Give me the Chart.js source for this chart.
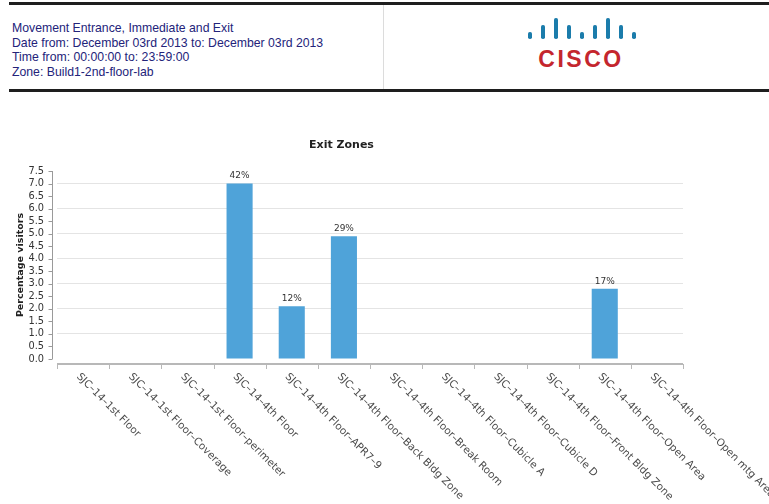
<!DOCTYPE html>
<html>
<head>
<meta charset="utf-8">
<script src="https://cdn.jsdelivr.net/npm/chart.js@4.4.0/dist/chart.umd.min.js"></script>
<style>
  body { margin: 0; width: 769px; height: 504px; background: #fff; position: relative; overflow: hidden; font-family: "Liberation Sans", Arial, sans-serif; }
  .rule { position: absolute; left: 9px; right: 0; height: 3px; background: #1e1e1e; }
  .divider { position: absolute; left: 383px; top: 5px; width: 1px; height: 84px; background: #dcdcdc; }
  .info { position: absolute; left: 12px; top: 21px; font-size: 12.25px; line-height: 14.7px; color: #23237a; white-space: nowrap; }
  .logo-bars span { position: absolute; width: 3.5px; background: #1b7cab; border-radius: 1.75px; bottom: 0; }
  .logo-bars { position: absolute; left: 528px; top: 18px; width: 110px; height: 21px; }
  .logo-text { position: absolute; left: 500px; width: 162px; top: 47px; text-align: center; font-size: 23px; line-height: 25px; font-weight: bold; letter-spacing: 2.5px; color: #c4262e; }
  #wrap { position: absolute; left: 0; top: 100px; width: 769px; height: 404px; }
</style>
</head>
<body>
<div class="rule" style="top:2px"></div>
<div class="rule" style="top:89px"></div>
<div class="divider"></div>
<div class="info">
  Movement Entrance, Immediate and Exit<br>
  Date from: December 03rd 2013 to: December 03rd 2013<br>
  Time from: 00:00:00 to: 23:59:00<br>
  Zone: Build1-2nd-floor-lab
</div>
<div class="logo-bars">
  <span style="left:0;height:7px"></span>
  <span style="left:13px;height:14px"></span>
  <span style="left:26px;height:21px"></span>
  <span style="left:39px;height:14px"></span>
  <span style="left:52px;height:7px"></span>
  <span style="left:65px;height:14px"></span>
  <span style="left:78px;height:21px"></span>
  <span style="left:91px;height:14px"></span>
  <span style="left:104px;height:7px"></span>
</div>
<div class="logo-text">CISCO</div>

<div id="wrap"><canvas id="exitChart"></canvas></div>

<script>
const zones = [
  "SJC–14–1st Floor",
  "SJC–14–1st Floor–Coverage",
  "SJC–14–1st Floor–perimeter",
  "SJC–14–4th Floor",
  "SJC–14–4th Floor–APR7–9",
  "SJC–14–4th Floor–Back Bldg Zone",
  "SJC–14–4th Floor–Break Room",
  "SJC–14–4th Floor–Cubicle A",
  "SJC–14–4th Floor–Cubicle D",
  "SJC–14–4th Floor–Front Bldg Zone",
  "SJC–14–4th Floor–Open Area",
  "SJC–14–4th Floor–Open mtg Area"
];
const visitors = [0, 0, 0, 7.0, 2.1, 4.9, 0, 0, 0, 0, 2.8, 0];
const pctLabels = ["", "", "", "42%", "12%", "29%", "", "", "", "", "17%", ""];
const yMin = 0, yMax = 7.5, yStep = 0.5;

// ejes desplazados, etiquetas giradas y porcentajes encima de las barras
const decor = {
  id: "decor",
  afterDraw(chart) {
    const { ctx, chartArea: a, scales: { x, y } } = chart;
    ctx.save();

    // eje Y
    const axX = Math.round(a.left - 5) + 0.5;
    ctx.strokeStyle = "#9a9a9a";
    ctx.lineWidth = 1;
    ctx.beginPath();
    ctx.moveTo(axX, y.getPixelForValue(yMax));
    ctx.lineTo(axX, y.getPixelForValue(yMin));
    y.ticks.forEach(t => {
      const py = Math.round(y.getPixelForValue(t.value)) + 0.5;
      ctx.moveTo(axX - 4, py);
      ctx.lineTo(axX, py);
    });
    ctx.stroke();

    // eje X
    const axY = Math.round(a.bottom + 5);
    ctx.strokeStyle = "#a0a0a0";
    ctx.lineWidth = 1.5;
    ctx.beginPath();
    ctx.moveTo(a.left, axY);
    ctx.lineTo(a.right, axY);
    ctx.stroke();
    ctx.lineWidth = 1;
    ctx.strokeStyle = "#b8b8b8";
    ctx.beginPath();
    for (let i = 0; i <= zones.length; i++) {
      const px = Math.round(x.getPixelForValue(i - 0.5)) + 0.5;
      ctx.moveTo(px, axY);
      ctx.lineTo(px, axY + 5);
    }
    ctx.stroke();

    // etiquetas de categorías
    ctx.font = "10.4px 'DejaVu Sans'";
    ctx.fillStyle = "#4a4a4a";
    ctx.textAlign = "left";
    ctx.textBaseline = "middle";
    zones.forEach((z, i) => {
      ctx.save();
      ctx.translate(x.getPixelForValue(i) - 5, axY + 11);
      ctx.rotate(Math.PI / 4);
      ctx.fillText(z, 0, 0);
      ctx.restore();
    });

    // porcentajes
    ctx.font = "9px 'DejaVu Sans'";
    ctx.fillStyle = "#333";
    ctx.textAlign = "center";
    ctx.textBaseline = "bottom";
    chart.getDatasetMeta(0).data.forEach((bar, i) => {
      if (pctLabels[i]) ctx.fillText(pctLabels[i], bar.x, bar.y - 3);
    });

    ctx.restore();
  }
};

new Chart(document.getElementById("exitChart"), {
  type: "bar",
  data: {
    labels: zones,
    datasets: [{
      data: visitors,
      backgroundColor: "#4fa3d9",
      borderWidth: 0,
      barPercentage: 0.5,
      categoryPercentage: 1.0
    }]
  },
  options: {
    responsive: true,
    maintainAspectRatio: false,
    animation: false,
    layout: { padding: { top: 38.4, right: 86, bottom: 137, left: 0 } },
    plugins: {
      legend: { display: false },
      tooltip: { enabled: false },
      title: {
        display: true,
        text: "Exit Zones",
        color: "#222",
        font: { family: "DejaVu Sans", size: 11, weight: "bold" },
        padding: { top: 0, bottom: 19.4 }
      }
    },
    scales: {
      x: {
        ticks: { display: false },
        grid: { display: false },
        border: { display: false }
      },
      y: {
        min: yMin,
        max: yMax,
        ticks: {
          stepSize: yStep,
          autoSkip: false,
          padding: 13,
          color: "#333",
          font: { family: "DejaVu Sans", size: 9.8 },
          callback: v => v.toFixed(1)
        },
        grid: {
          drawTicks: false,
          color: c => (c.tick && c.tick.value > 0 && c.tick.value < yMax && c.tick.value % 1 === 0) ? "#e4e4e4" : "rgba(0,0,0,0)"
        },
        border: { display: false },
        title: {
          display: true,
          text: "Percentage visitors",
          color: "#222",
          font: { family: "DejaVu Sans", size: 9.5, weight: "bold" },
          padding: { top: 15, bottom: 0 }
        },
        afterFit(s) { s.width = 57; }
      }
    }
  },
  plugins: [decor]
});
</script>
</body>
</html>
